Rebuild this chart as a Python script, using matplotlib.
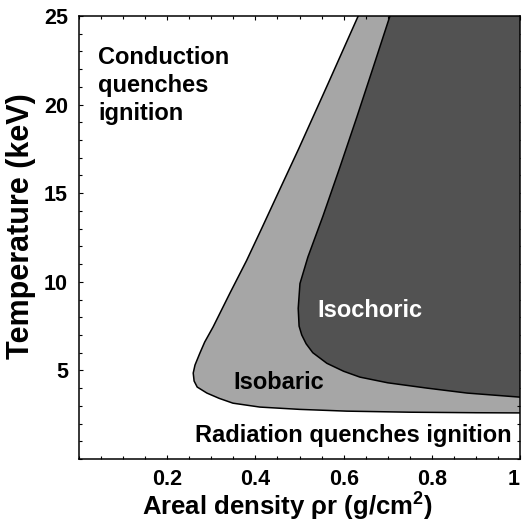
import numpy as np
import matplotlib
matplotlib.use("Agg")
import matplotlib.pyplot as plt
from matplotlib.ticker import MultipleLocator, FixedLocator

plt.rcParams["font.family"] = ["Liberation Sans", "DejaVu Sans"]
plt.rcParams["font.weight"] = "bold"
plt.rcParams["mathtext.fontset"] = "custom"
plt.rcParams["mathtext.rm"] = "Liberation Sans:bold"
plt.rcParams["mathtext.bf"] = "Liberation Sans:bold"

# isobaric ignition boundary (outer curve): areal density vs temperature
isobaric_rho = [0.633, 0.565, 0.498, 0.455, 0.414, 0.380, 0.342, 0.304, 0.285,
                0.274, 0.263, 0.259, 0.261, 0.268, 0.290, 0.318, 0.349, 0.410,
                0.500, 0.607, 0.750, 0.900, 1.000]
isobaric_T = [25.0, 21.2, 17.5, 15.2, 13.0, 11.2, 9.35, 7.45, 6.6,
              5.97, 5.3, 4.85, 4.4, 4.06, 3.72, 3.42, 3.15, 2.93,
              2.80, 2.70, 2.64, 2.61, 2.60]

# isochoric ignition boundary (inner curve)
isochoric_rho = [0.705, 0.667, 0.630, 0.592, 0.553, 0.519, 0.501, 0.497, 0.499,
                 0.505, 0.515, 0.530, 0.562, 0.600, 0.637, 0.700, 0.789, 0.880,
                 1.000]
isochoric_T = [25.0, 22.1, 19.3, 16.5, 13.7, 11.4, 9.9, 8.5, 7.5,
               7.0, 6.5, 6.0, 5.4, 4.95, 4.62, 4.30, 4.00, 3.72,
               3.49]

x_ticks = [0.2, 0.4, 0.6, 0.8, 1.0]
x_ticklabels = ["0.2", "0.4", "0.6", "0.8", "1"]
y_ticks = [5, 10, 15, 20, 25]

fig = plt.figure(figsize=(5.22, 5.23), dpi=100)
ax = fig.add_axes([0.1513, 0.1224, 0.845, 0.847])


def region(xs, ys):
    # close the curve against the upper-right corner of the plot
    px = list(xs) + [1.0, 1.0]
    py = list(ys) + [ys[-1], 25.0]
    return px, py


px, py = region(isobaric_rho, isobaric_T)
ax.fill(px, py, color="#a6a6a6", lw=0, zorder=1)
px, py = region(isochoric_rho, isochoric_T)
ax.fill(px, py, color="#525252", lw=0, zorder=2)
ax.plot(isobaric_rho, isobaric_T, color="black", lw=1.1, zorder=3)
ax.plot(isochoric_rho, isochoric_T, color="black", lw=1.1, zorder=3)

ax.set_xlim(0, 1)
ax.set_ylim(0, 25)
ax.xaxis.set_major_locator(FixedLocator(x_ticks))
ax.set_xticklabels(x_ticklabels)
ax.xaxis.set_minor_locator(MultipleLocator(0.05))
ax.yaxis.set_major_locator(FixedLocator(y_ticks))
ax.yaxis.set_minor_locator(MultipleLocator(1))
ax.tick_params(which="both", direction="in", top=True, right=True,
               labelsize=15.5, width=0.8)
ax.tick_params(which="major", length=3)
ax.tick_params(axis="x", which="major", pad=7)
ax.tick_params(axis="y", which="major", pad=8)
ax.tick_params(which="minor", length=2)
# the "1" at the right end sits flush against the figure edge
ax.get_xticklabels()[-1].set_ha("right")
for s in ax.spines.values():
    s.set_linewidth(1.1)

ax.set_xlabel("Areal density ρr (g/cm$^{2}$)", fontsize=18.5, fontweight="bold")
ax.xaxis.set_label_coords(0.472, -0.068)
ax.set_ylabel("Temperature (keV)", fontsize=22, fontweight="bold")
ax.yaxis.set_label_coords(-0.098, 0.526)

txt = dict(fontsize=17, fontweight="bold")
ax.text(0.043, 23.3, "Conduction\nquenches\nignition", ha="left", va="top",
        linespacing=1.28, **txt)
ax.text(0.54, 8.4, "Isochoric", ha="left", va="center", color="white", **txt)
ax.text(0.349, 4.3, "Isobaric", ha="left", va="center", **txt)
ax.text(0.263, 1.35, "Radiation quenches ignition", ha="left", va="center", **txt)

fig.savefig("out.png", dpi=100)
